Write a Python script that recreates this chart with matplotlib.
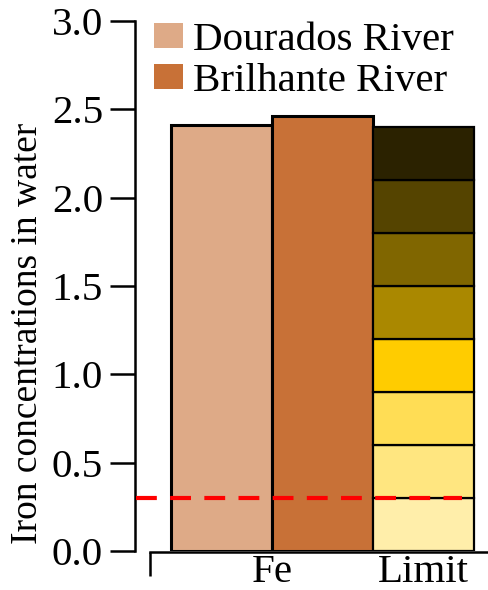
import matplotlib
matplotlib.use('Agg')
import matplotlib.pyplot as plt
from matplotlib.patches import Patch

# data
rivers = ['Dourados River', 'Brilhante River']
fe_values = [2.41, 2.465]
river_colors = ['#DEAA87', '#C87137']

limit_step = 0.3
limit_colors = ['#FFEEAA', '#FFE680', '#FFDD55', '#FFCC00',
                '#AA8800', '#806600', '#554400', '#2B2200']
limit_line = 0.3

x_labels = ['Fe', 'Limit']

plt.rcParams['font.family'] = ['Liberation Serif', 'DejaVu Serif']
plt.rcParams['font.size'] = 29.5

fig = plt.figure(figsize=(4.89, 5.90), dpi=100)
ax = fig.add_axes([135 / 489, 39 / 590, 354 / 489, 530 / 590])

# river bars
for i, (name, val, col) in enumerate(zip(rivers, fe_values, river_colors)):
    ax.bar(i, val, width=1.0, color=col, edgecolor='black', linewidth=2.2, label=name)

# stacked limit bar
bottom = 0.0
for col in limit_colors:
    ax.bar(2, limit_step, width=1.0, bottom=bottom, color=col,
           edgecolor='black', linewidth=1.6)
    bottom += limit_step

ax.plot([-0.845, 2.38], [limit_line, limit_line], color='red', linewidth=3,
        linestyle=(0, (5, 3.2)), zorder=5, clip_on=False)

ax.set_xlim(-0.856, 2.649)
ax.set_ylim(0, 3.0)

ax.spines['top'].set_visible(False)
ax.spines['right'].set_visible(False)
ax.spines['left'].set_linewidth(1.8)
ax.spines['bottom'].set_linewidth(1.8)
ax.spines['bottom'].set_bounds(-0.708, 2.649)
ax.spines['bottom'].set_position(('outward', 1))

ax.set_yticks([0, 0.5, 1.0, 1.5, 2.0, 2.5, 3.0])
ax.set_yticklabels(['0.0', '0.5', '1.0', '1.5', '2.0', '2.5', '3.0'])
ax.tick_params(axis='y', length=18, width=1.8, pad=5)

ax.set_xticks([-0.708])
ax.set_xticklabels([''])
ax.tick_params(axis='x', which='major', length=17, width=1.8)
ax.set_xticks([0.5, 2.0], minor=True)
ax.set_xticklabels(x_labels, minor=True)
ax.tick_params(axis='x', which='minor', length=0, pad=1.5)

ax.set_ylabel('Iron concentrations in water', fontsize=27)
ax.yaxis.set_label_coords(-0.255, 0.41)

handles = [Patch(facecolor=c, edgecolor='none') for c in river_colors]
fig.legend(handles, rivers, loc='upper left', bbox_to_anchor=(154 / 489, 1 - 22 / 590),
           frameon=False, handlelength=0.72, handleheight=0.58,
           handletextpad=0.22, labelspacing=0.1, borderpad=0, borderaxespad=0)

fig.savefig('out.png', dpi=100)
